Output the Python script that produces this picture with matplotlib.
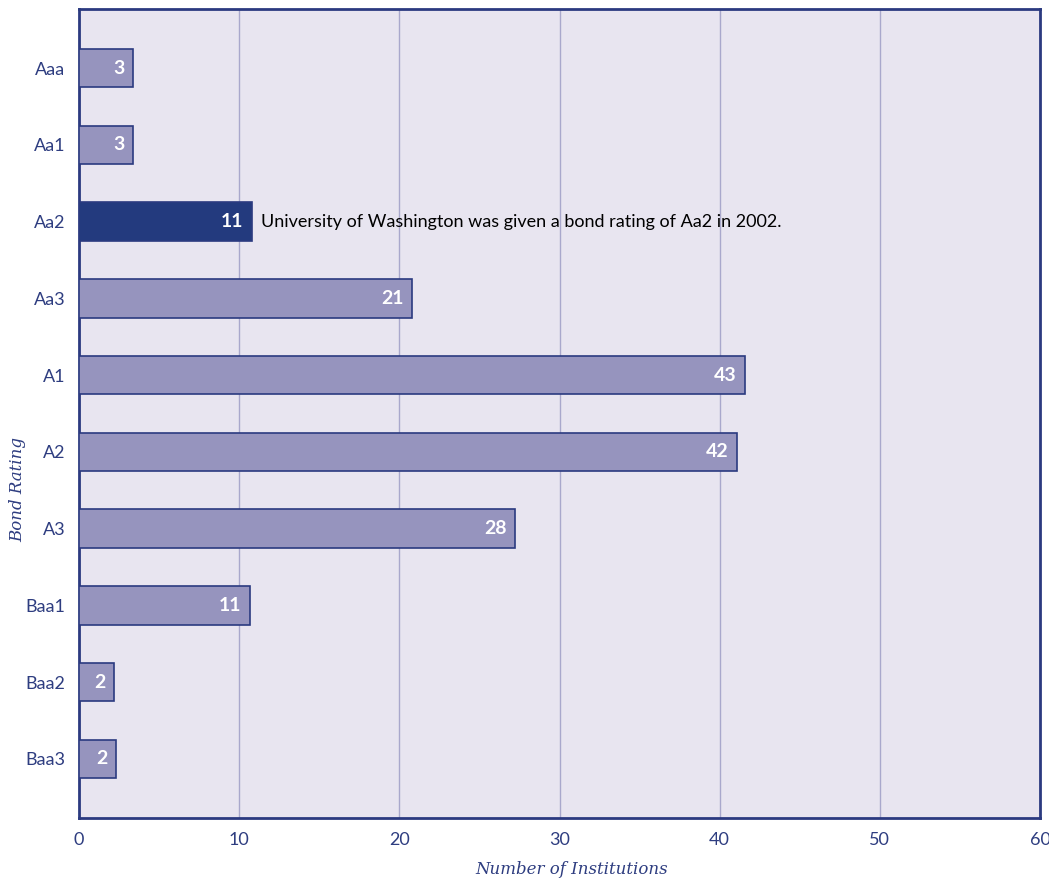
import matplotlib.pyplot as plt
import numpy as np

ratings = ['Aaa', 'Aa1', 'Aa2', 'Aa3', 'A1', 'A2', 'A3', 'Baa1', 'Baa2', 'Baa3']
counts = [3, 3, 11, 21, 43, 42, 28, 11, 2, 2]
# bar lengths as drawn in the original graphic
bar_len = [3.4, 3.4, 10.8, 20.8, 41.6, 41.1, 27.25, 10.65, 2.2, 2.3]
highlight = 'Aa2'
note = 'University of Washington was given a bond rating of Aa2 in 2002.'

bg = '#E8E5F0'
bar_c = '#9694BE'
edge_c = '#2B3A80'
hi_c = '#233A7E'
txt_c = '#2E3D80'

plt.rcParams['font.family'] = ['Lato', 'DejaVu Sans']

fig = plt.figure(figsize=(10.49, 8.81), dpi=100)
ax = fig.add_axes([79/1049, 1-818/881, (1040-79)/1049, (818-9)/881])
ax.set_facecolor(bg)

y = np.arange(len(ratings))
cols = [hi_c if r == highlight else bar_c for r in ratings]
ax.barh(y, bar_len, height=0.5, color=cols, edgecolor=edge_c, linewidth=1.2, zorder=3)

for yi, v, L, r in zip(y, counts, bar_len, ratings):
    ax.text(L - 0.55, yi, str(v), color='white', fontweight='bold', fontsize=14,
            ha='right', va='center', zorder=4)
    if r == highlight:
        ax.text(L + 0.55, yi, note, color='black', fontsize=13, ha='left', va='center', zorder=4)

ax.set_xlim(0, 60)
ax.set_ylim(len(ratings) - 0.23, -0.77)
ax.set_xticks(range(0, 61, 10))
ax.set_yticks(y)
ax.set_yticklabels(ratings)
ax.grid(axis='x', color='#A9A8CC', linewidth=1, zorder=0)
ax.tick_params(length=0, colors=txt_c, labelsize=13)
ax.tick_params(axis='x', pad=10)
ax.tick_params(axis='y', pad=10)
for s in ax.spines.values():
    s.set_color(edge_c)
    s.set_linewidth(2)

fig.text(572/1049, 1-870/881, 'Number of Institutions', family='DejaVu Serif', style='italic',
         color=txt_c, fontsize=12, ha='center', va='center')
fig.text(18/1049, 1-490/881, 'Bond Rating', family='DejaVu Serif', style='italic',
         color=txt_c, fontsize=12, ha='center', va='center', rotation=90)

fig.savefig('out.png', facecolor='white')
